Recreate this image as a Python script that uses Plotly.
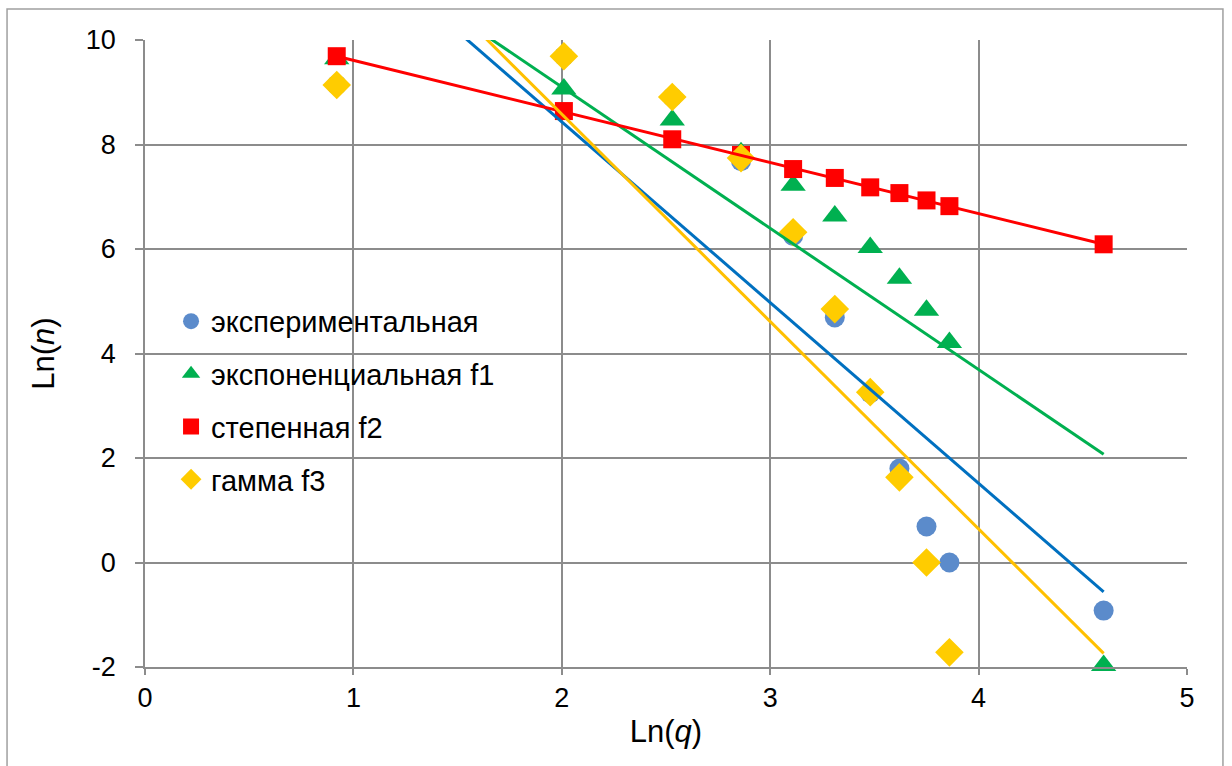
import plotly.graph_objects as go

# Data
ln_q = [0.92, 2.01, 2.53, 2.86, 3.11, 3.31, 3.48, 3.62, 3.75, 3.86, 4.60]
exp_vals = [9.14, 9.69, 8.91, 7.68, 6.25, 4.69, 3.24, 1.80, 0.69, 0.00, -0.92]
f1_vals = [9.64, 9.06, 8.47, 7.84, 7.22, 6.63, 6.03, 5.44, 4.83, 4.21, -1.97]
f2_vals = [9.69, 8.64, 8.10, 7.80, 7.53, 7.36, 7.18, 7.07, 6.93, 6.82, 6.09]
f3_vals = [9.14, 9.69, 8.91, 7.74, 6.32, 4.85, 3.26, 1.63, 0.00, -1.72, None]

trend_x = [0.92, 4.60]
trend_exp = [12.17, -0.56]
trend_f1 = [12.02, 2.07]
trend_f2 = [9.69, 6.09]
trend_f3 = [12.87, -1.74]

names = ["экспериментальная", "экспоненциальная f1", "степенная f2", "гамма f3"]
x_ticks = [0, 1, 2, 3, 4, 5]
y_ticks = [-2, 0, 2, 4, 6, 8, 10]

FONT = "Liberation Sans"
GRID = "#8c8c8c"

fig = go.Figure()

marker_specs = [
    (exp_vals, names[0], "circle", "#5B8BCB", 20),
    (f1_vals, names[1], "triangle-up", "#00B050", 22),
    (f2_vals, names[2], "square", "#FF0000", 18),
    (f3_vals, names[3], "diamond", "#FFCC00", 22),
]
for i, (vals, nm, sym, col, sz) in enumerate(marker_specs):
    fig.add_trace(go.Scatter(
        x=ln_q, y=vals, name=nm, mode="markers",
        marker=dict(symbol=sym, color=col, size=sz, line=dict(width=0)),
        cliponaxis=False, legendgroup=f"g{i}",
    ))

for vals, col in [(trend_exp, "#0070C0"), (trend_f1, "#00B050"),
                  (trend_f2, "#FF0000"), (trend_f3, "#FFC000")]:
    fig.add_trace(go.Scatter(
        x=trend_x, y=vals, mode="lines", showlegend=False,
        line=dict(color=col, width=3), hoverinfo="skip",
    ))

fig.update_layout(
    width=1232, height=766,
    margin=dict(l=145, r=45, t=40, b=99),
    paper_bgcolor="white", plot_bgcolor="white",
    font=dict(family=FONT, size=28, color="black"),
    showlegend=True,
    legend=dict(
        x=0.025, y=0.592, xanchor="left", yanchor="top",
        bgcolor="rgba(0,0,0,0)", tracegroupgap=12,
        font=dict(family=FONT, size=29, color="black"),
        itemsizing="trace",
    ),
    xaxis=dict(
        range=[0, 5], tickvals=x_ticks, ticktext=[str(v) for v in x_ticks],
        showgrid=True, gridcolor=GRID, gridwidth=1.5,
        showline=True, linecolor=GRID, linewidth=1.5,
        ticks="outside", ticklen=6, tickcolor=GRID, tickwidth=1.5,
        zeroline=False,
        tickfont=dict(family=FONT, size=27),
        title=dict(text="Ln(<i>q</i>)", font=dict(family=FONT, size=31), standoff=8),
    ),
    yaxis=dict(
        range=[-2, 10], tickvals=y_ticks, ticktext=[str(v) for v in y_ticks],
        showgrid=True, gridcolor=GRID, gridwidth=1.5,
        showline=True, linecolor=GRID, linewidth=1.5,
        ticks="outside", ticklen=8, tickcolor=GRID, tickwidth=1.5,
        zeroline=False, ticklabelstandoff=14,
        tickfont=dict(family=FONT, size=27),
        title=dict(text="Ln(<i>n</i>)", font=dict(family=FONT, size=31), standoff=22),
    ),
)

fig.add_shape(type="rect", xref="paper", yref="paper",
              x0=-0.1324, x1=1.0345, y0=-0.2, y1=1.0494,
              line=dict(color="#a0a0a0", width=1.5), layer="below")

fig.write_html("out.html", config={"displayModeBar": False},
               post_script="document.body.style.margin='0px';")
